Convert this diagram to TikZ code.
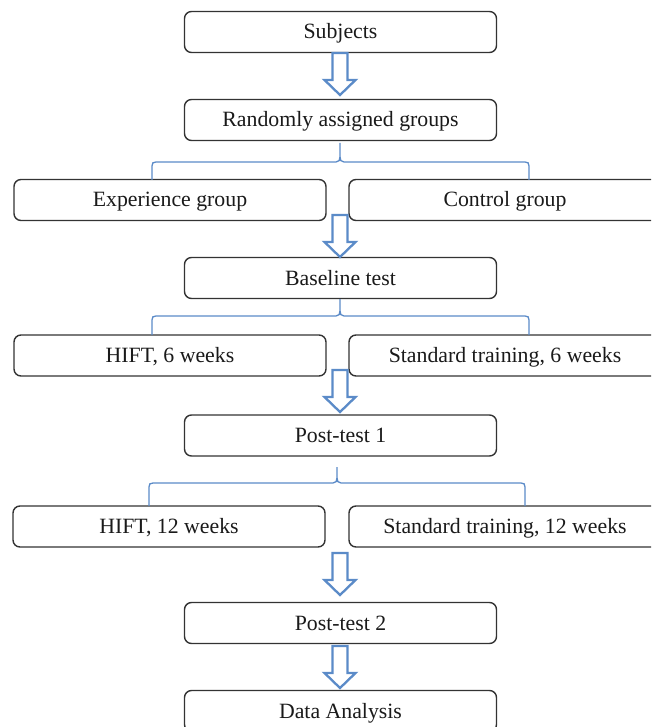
\documentclass[tikz,border=0pt]{standalone}
\usepackage{fontspec}
\setmainfont{Liberation Serif}
\usetikzlibrary{calc}
\definecolor{boxline}{HTML}{333333}
\definecolor{flowblue}{HTML}{5B8BC8}
\definecolor{txt}{HTML}{1A1A1A}
\tikzset{
  stepbox/.style={draw=boxline, line width=1.4pt, rounded corners=7pt, fill=white,
    minimum width=312pt, minimum height=41pt, inner sep=0pt, text=txt,
    text height=15pt, text depth=1pt,
    font=\fontsize{21.8}{25}\selectfont},
  bluearrow/.style={draw=flowblue, line width=2.3pt, fill=white, line join=miter},
  bracketline/.style={draw=flowblue, line width=1.3pt},
  pics/blockarrow/.style={code={
    \draw[bluearrow] (-7.5,0) -- (7.5,0) -- (7.5,27) -- (15.5,27) -- (0,42)
      -- (-15.5,27) -- (-7.5,27) -- cycle;}}
}
% bracket: left x, middle x, right x, tip y, line y, end y
\newcommand{\groupbracket}[6]{%
  \draw[bracketline] (#1,#6) -- (#1,#5+4) .. controls (#1,#5+1) and (#1+1,#5) .. (#1+4,#5)
    -- (#2-4,#5) .. controls (#2-1,#5) and (#2,#5-2) .. (#2,#5-5) -- (#2,#4);
  \draw[bracketline] (#3,#6) -- (#3,#5+4) .. controls (#3,#5+1) and (#3-1,#5) .. (#3-4,#5)
    -- (#2+4,#5) .. controls (#2+1,#5) and (#2,#5-2) .. (#2,#5-5);
}
\begin{document}
\begin{tikzpicture}[x=1pt, y=-1pt]
\useasboundingbox (0,0) rectangle (651,727);
\clip (0,0) rectangle (651,727);
\fill[white] (0,0) rectangle (651,727);

\node[stepbox] (subj)   at (340.5,32)    {Subjects};
\node[stepbox] (rand)   at (340.5,120)   {Randomly assigned groups};
\node[stepbox] (exp)    at (170,200)     {Experience group};
\node[stepbox] (ctrl)   at (505,200)     {Control group};
\node[stepbox] (base)   at (340.5,278)   {Baseline test};
\node[stepbox] (hift6)  at (170,355.5)   {HIFT, 6 weeks};
\node[stepbox] (std6)   at (505,355.5)   {Standard training, 6 weeks};
\node[stepbox] (post1)  at (340.5,435.5) {Post-test 1};
\node[stepbox] (hift12) at (169,526.5)   {HIFT, 12 weeks};
\node[stepbox] (std12)  at (505,526.5)   {Standard training, 12 weeks};
\node[stepbox] (post2)  at (340.5,623)   {Post-test 2};
\node[stepbox] (data)   at (340.5,711)   {Data Analysis};

% block arrows
\pic at (340,53)  {blockarrow};
\pic at (340,215) {blockarrow};
\pic at (340,370) {blockarrow};
\pic at (340,553) {blockarrow};
\pic at (340,646) {blockarrow};

% group brackets
\groupbracket{152}{340}{529}{143}{162}{180}
\groupbracket{152}{340}{529}{299}{316}{335}
\groupbracket{149}{337}{525}{467}{483}{506}
\end{tikzpicture}
\end{document}
